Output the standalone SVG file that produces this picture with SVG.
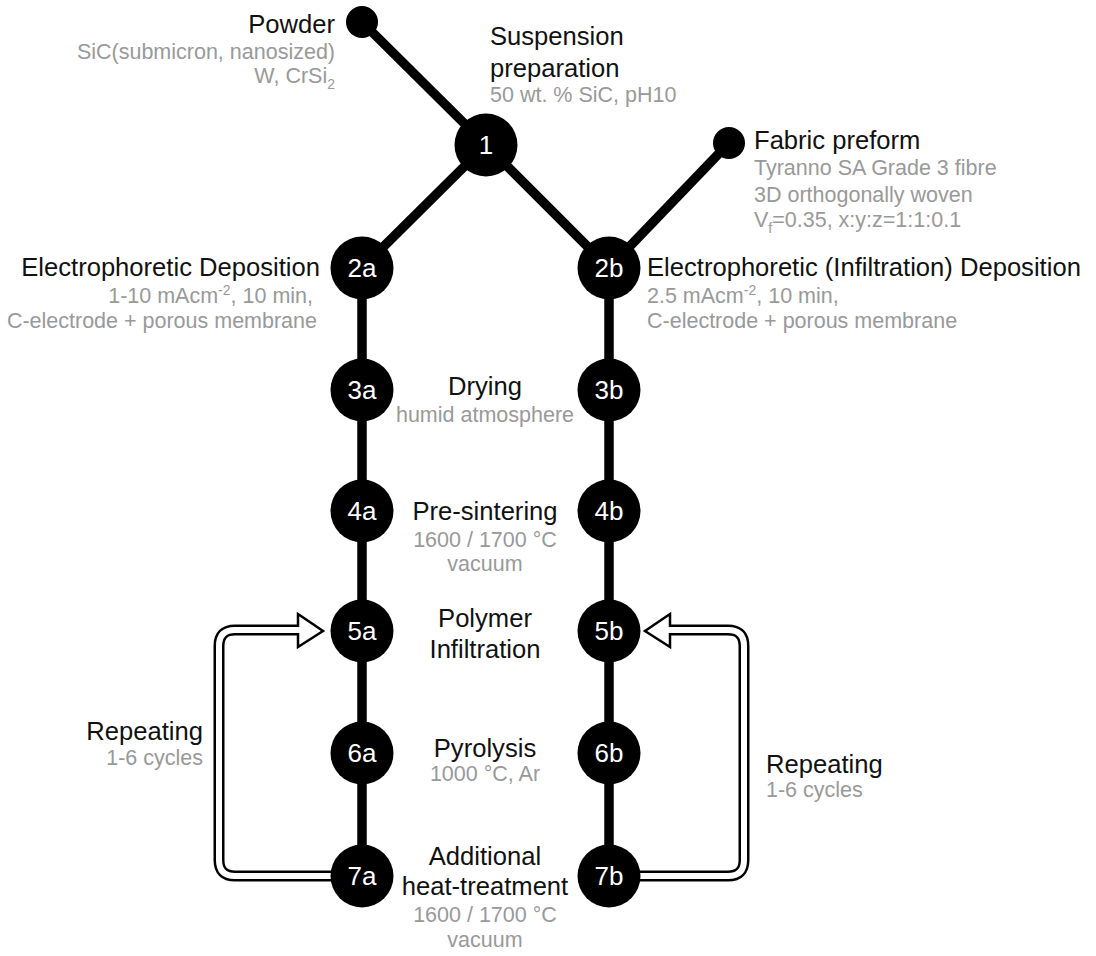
<svg xmlns="http://www.w3.org/2000/svg" width="1096" height="956" viewBox="0 0 1096 956">
<style>
.t{font-family:"Liberation Sans",Arial,sans-serif;font-size:25.6px;fill:#111}
.g{font-family:"Liberation Sans",Arial,sans-serif;font-size:21.5px;fill:#999}
.n{font-family:"Liberation Sans",Arial,sans-serif;font-size:26px;fill:#fff;text-anchor:middle}
.c{text-anchor:middle}
.e{text-anchor:end}
.ln{stroke:#000;stroke-width:9.5;fill:none}
.lo{stroke:#000;stroke-width:11;fill:none}
.li{stroke:#fff;stroke-width:6;fill:none}
</style>
<rect width="1096" height="956" fill="#fff"/>
<g id="connectors">
<line class="ln" x1="362" y1="22" x2="486" y2="145"/>
<line class="ln" x1="486" y1="145" x2="362" y2="268"/>
<line class="ln" x1="486" y1="145" x2="609" y2="268"/>
<line class="ln" x1="729" y1="143" x2="609" y2="268"/>
<line class="ln" x1="362" y1="268" x2="362" y2="876"/>
<line class="ln" x1="609" y1="268" x2="609" y2="876"/>
<g id="loop-a">
<path class="lo" d="M331 876 H235 Q219 876 219 860 V646 Q219 630 235 630 H300"/>
<polygon points="298,614 323,631 298,647" fill="#fff" stroke="#000" stroke-width="2.5"/>
<path class="li" d="M331 876 H235 Q219 876 219 860 V646 Q219 630 235 630 H302"/>
</g>
<g id="loop-b">
<path class="lo" d="M640 876 H728 Q744 876 744 860 V646 Q744 630 728 630 H668"/>
<polygon points="670,614 645,631 670,647" fill="#fff" stroke="#000" stroke-width="2.5"/>
<path class="li" d="M640 876 H728 Q744 876 744 860 V646 Q744 630 728 630 H666"/>
</g>
</g>
<g id="powder">
<circle cx="362" cy="22" r="16"/>
<text class="t e" x="335" y="33">Powder</text>
<text class="g e" x="335" y="59">SiC(submicron, nanosized)</text>
<text class="g e" x="335" y="83">W, CrSi<tspan font-size="14" dy="6">2</tspan></text>
</g>
<g id="fabric">
<circle cx="729" cy="143" r="16"/>
<text class="t" x="754" y="149">Fabric preform</text>
<text class="g" x="754" y="175">Tyranno SA Grade 3 fibre</text>
<text class="g" x="754" y="202">3D orthogonally woven</text>
<text class="g" x="754" y="227">V<tspan font-size="14" dy="6">f</tspan><tspan dy="-6">=0.35, x:y:z=1:1:0.1</tspan></text>
</g>
<g id="n1">
<circle cx="486" cy="145" r="31.5"/>
<text class="n" x="486" y="154">1</text>
<text class="t" x="490" y="45">Suspension</text>
<text class="t" x="490" y="77">preparation</text>
<text class="g" x="490" y="102">50 wt. % SiC, pH10</text>
</g>
<g id="n2a">
<circle cx="362" cy="268" r="31.5"/>
<text class="n" x="362" y="277">2a</text>
<text class="t e" x="320" y="276">Electrophoretic Deposition</text>
<text class="g e" x="313" y="303">1-10 mAcm<tspan font-size="14" dy="-8">-2</tspan><tspan dy="8">, 10 min,</tspan></text>
<text class="g e" x="317" y="328">C-electrode + porous membrane</text>
</g>
<g id="n2b">
<circle cx="609" cy="268" r="31.5"/>
<text class="n" x="609" y="277">2b</text>
<text class="t" x="647" y="276">Electrophoretic (Infiltration) Deposition</text>
<text class="g" x="647" y="303">2.5 mAcm<tspan font-size="14" dy="-8">-2</tspan><tspan dy="8">, 10 min,</tspan></text>
<text class="g" x="647" y="328">C-electrode + porous membrane</text>
</g>
<g id="n3a"><circle cx="362" cy="390" r="31.5"/><text class="n" x="362" y="399">3a</text></g>
<g id="n3b"><circle cx="609" cy="390" r="31.5"/><text class="n" x="609" y="399">3b</text></g>
<g id="drying">
<text class="t c" x="485" y="395">Drying</text>
<text class="g c" x="485" y="422">humid atmosphere</text>
</g>
<g id="n4a"><circle cx="362" cy="511" r="31.5"/><text class="n" x="362" y="520">4a</text></g>
<g id="n4b"><circle cx="609" cy="511" r="31.5"/><text class="n" x="609" y="520">4b</text></g>
<g id="presinter">
<text class="t c" x="485" y="520">Pre-sintering</text>
<text class="g c" x="485" y="547">1600 / 1700 °C</text>
<text class="g c" x="485" y="571">vacuum</text>
</g>
<g id="n5a"><circle cx="362" cy="631" r="31.5"/><text class="n" x="362" y="640">5a</text></g>
<g id="n5b"><circle cx="609" cy="631" r="31.5"/><text class="n" x="609" y="640">5b</text></g>
<g id="polymer">
<text class="t c" x="485" y="627">Polymer</text>
<text class="t c" x="485" y="658">Infiltration</text>
</g>
<g id="n6a"><circle cx="362" cy="753" r="31.5"/><text class="n" x="362" y="762">6a</text></g>
<g id="n6b"><circle cx="609" cy="753" r="31.5"/><text class="n" x="609" y="762">6b</text></g>
<g id="pyrolysis">
<text class="t c" x="485" y="757">Pyrolysis</text>
<text class="g c" x="485" y="781">1000 °C, Ar</text>
</g>
<g id="n7a"><circle cx="362" cy="876" r="31.5"/><text class="n" x="362" y="885">7a</text></g>
<g id="n7b"><circle cx="609" cy="876" r="31.5"/><text class="n" x="609" y="885">7b</text></g>
<g id="heat">
<text class="t c" x="485" y="865">Additional</text>
<text class="t c" x="485" y="895">heat-treatment</text>
<text class="g c" x="485" y="922">1600 / 1700 °C</text>
<text class="g c" x="485" y="947">vacuum</text>
</g>
<g id="repeat-a">
<text class="t e" x="203" y="740">Repeating</text>
<text class="g e" x="203" y="765">1-6 cycles</text>
</g>
<g id="repeat-b">
<text class="t" x="766" y="773">Repeating</text>
<text class="g" x="766" y="797">1-6 cycles</text>
</g>
</svg>
